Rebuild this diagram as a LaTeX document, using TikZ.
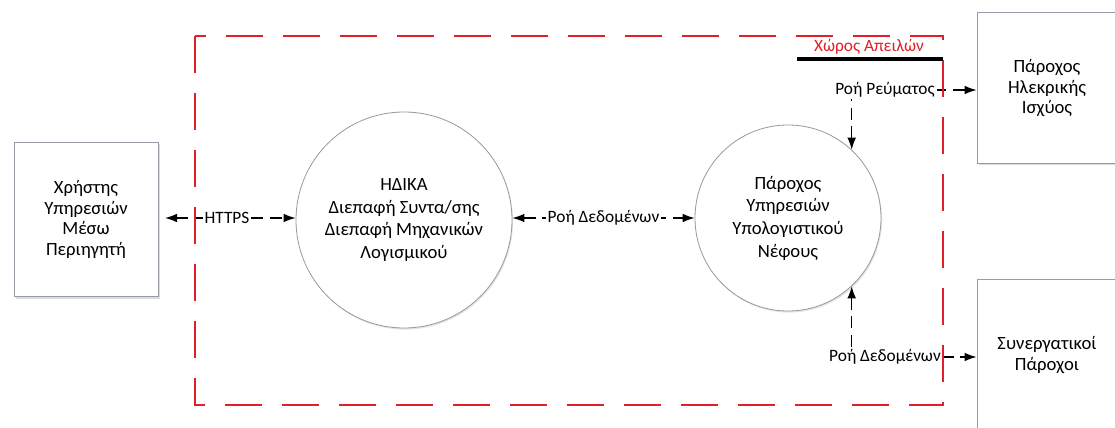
\documentclass[tikz,border=0pt]{standalone}
\usepackage{fontspec}
\setmainfont{Carlito}
\usetikzlibrary{arrows.meta,shadows,positioning,calc}
\definecolor{ThreatRed}{RGB}{226,30,38}
\definecolor{BoxGray}{RGB}{150,155,165}
\definecolor{ShadowGray}{RGB}{205,212,222}
\tikzset{
  entity/.style={
    draw=BoxGray,
    fill=white,
    line width=0.6pt,
    minimum width=108pt,
    minimum height=116pt,
    align=center,
    font=\fontsize{14}{15.5}\selectfont,
    drop shadow={shadow xshift=1.2pt,shadow yshift=-1.5pt,fill=ShadowGray,opacity=0.8}
  },
  process/.style={
    draw=gray!80,
    fill=white,
    circle,
    line width=0.6pt,
    inner sep=0pt,
    align=center,
    font=\fontsize{14}{17}\selectfont,
    drop shadow={shadow xshift=0.8pt,shadow yshift=-1.2pt,fill=ShadowGray,opacity=0.6}
  },
  flow/.style={arrows={Latex[length=9pt,width=6.5pt]-Latex[length=9pt,width=6.5pt]},
    line width=0.9pt,dash pattern=on 9pt off 5pt},
  flowlabel/.style={fill=white,inner sep=1.5pt,font=\fontsize{13}{14}\selectfont},
  boundary/.style={draw=ThreatRed,line width=1.9pt,dash pattern=on 27.75pt off 15pt}
}
\begin{document}
\begin{tikzpicture}[x=0.75pt,y=-0.75pt]
\useasboundingbox (0,0) rectangle (1115,428);
\clip (0,0) rectangle (1115,428);

% External entities and processes
\node[entity] (user) at (86,219.5) {Χρήστης\\Υπηρεσιών\\Μέσω\\Περιηγητή};
\node[process,minimum size=162pt] (idika) at (404,220) {ΗΔΙΚΑ\\Διεπαφή Συντα/σης\\Διεπαφή Μηχανικών\\Λογισμικού};
\node[process,minimum size=139.5pt] (cloud) at (788,218) {Πάροχος\\Υπηρεσιών\\Υπολογιστικού\\Νέφους};
\node[entity,minimum width=105pt,minimum height=113pt] (power) at (1047,88) {Πάροχος\\Ηλεκρικής\\Ισχύος};
\node[entity,minimum width=105pt,minimum height=113pt] (partners) at (1047,355) {Συνεργατικοί\\Πάροχοι};

% Flows
\draw[flow,shorten <=5pt] (user.east |- 0,218) -- node[flowlabel] (https) {HTTPS} (idika.west |- 0,218);
\draw[flow] (idika.east |- 0,218) -- node[flowlabel] (data) {Ροή Δεδομένων} (cloud.west |- 0,218);
\draw[flow] (cloud.47) |- (power.west |- 0,90);
\draw[flow] (cloud.-47) |- (partners.west |- 0,357);
\node[flowlabel] (current) at (885,90) {Ροή Ρεύματος};
\node[flowlabel] (data2) at (885,357) {Ροή Δεδομένων};

% Trust boundary
\draw[boundary] (195,36) rectangle (943,405);
\draw[line width=3pt] (797,59) -- (943,59);
\node[text=ThreatRed,font=\fontsize{13}{14}\selectfont] (zone) at (869,47) {Χώρος Απειλών};

\end{tikzpicture}
\end{document}
